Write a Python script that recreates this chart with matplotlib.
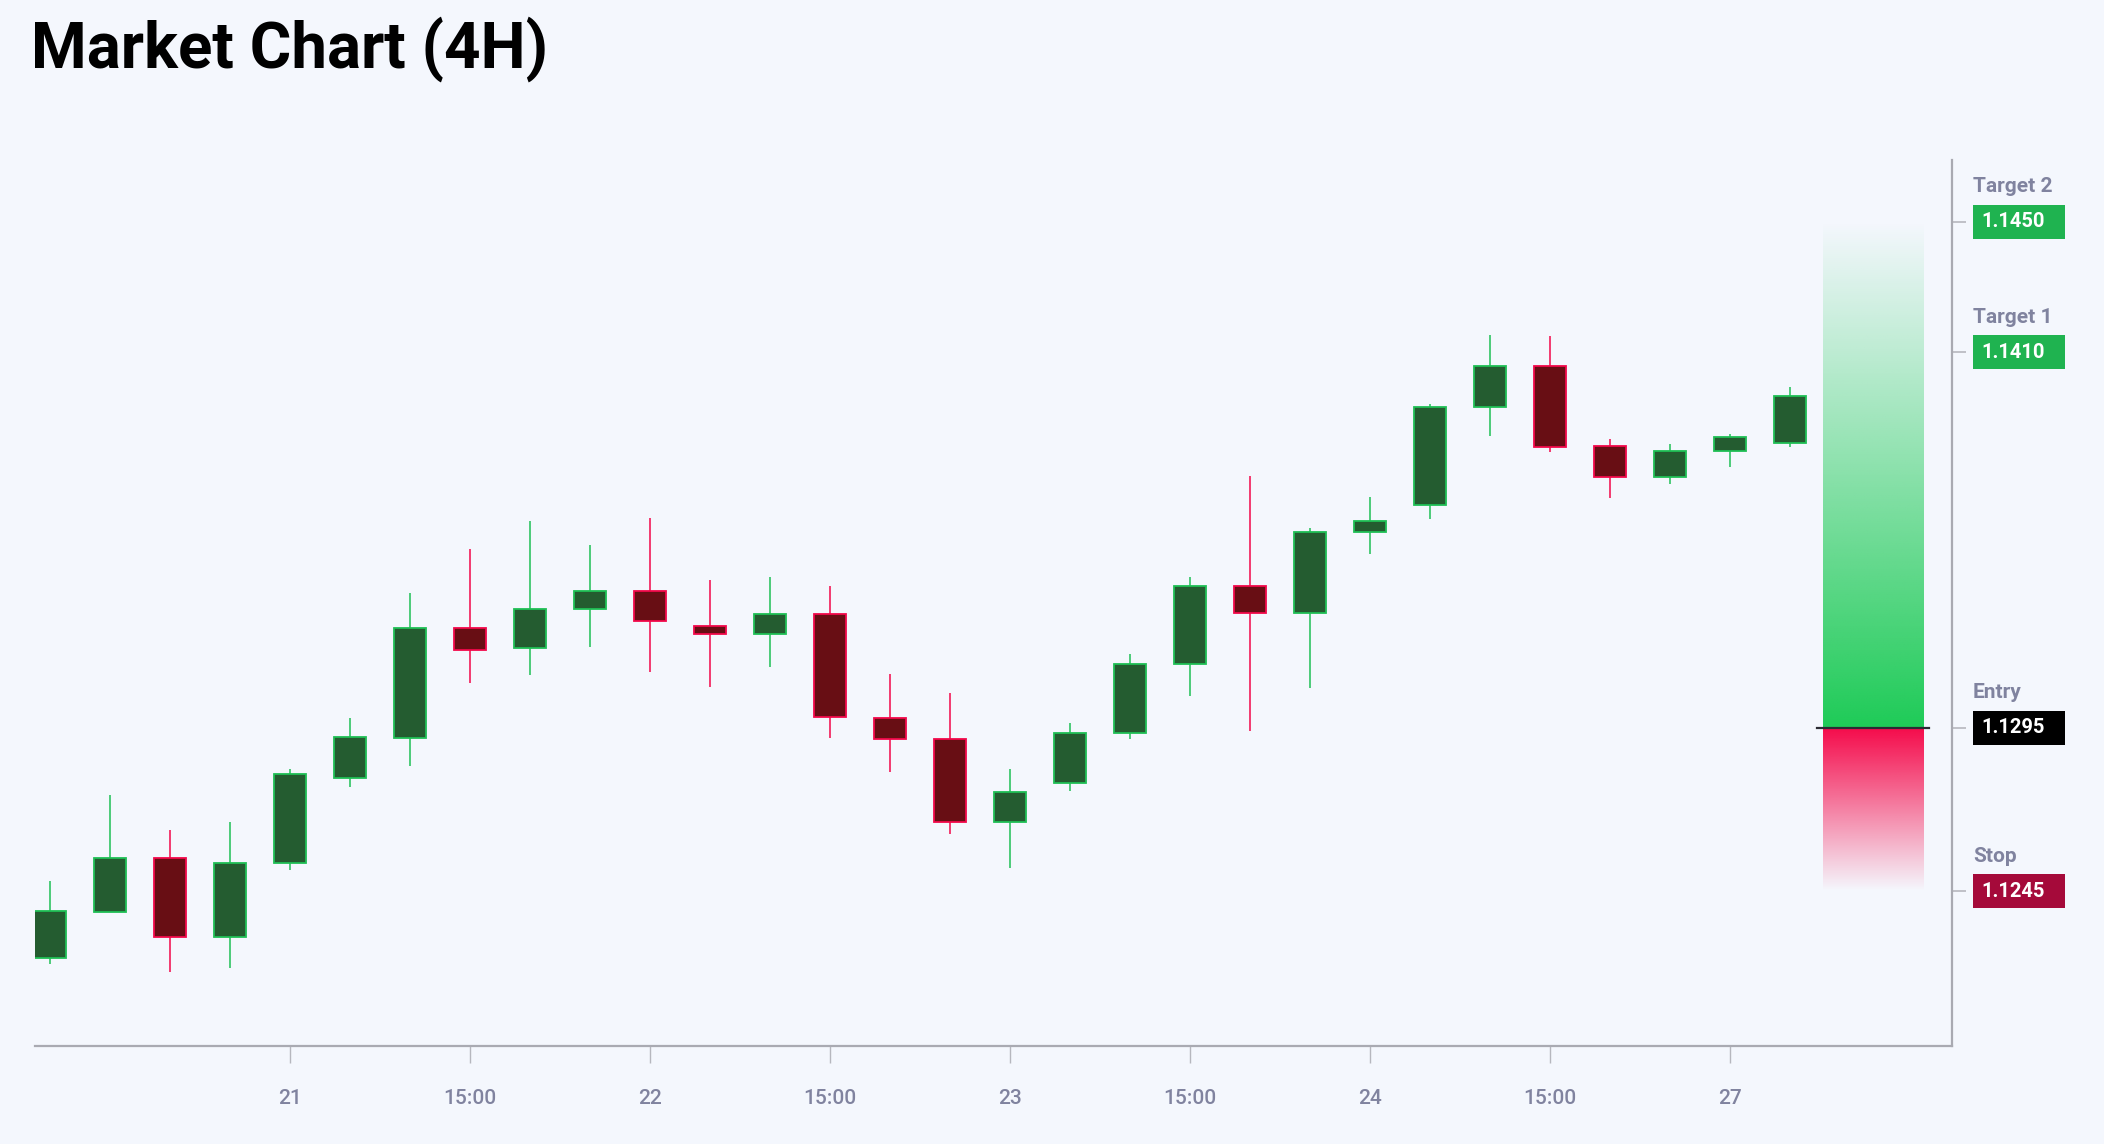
import numpy as np
import matplotlib
matplotlib.use("Agg")
import matplotlib.pyplot as plt
from matplotlib.patches import Rectangle
import matplotlib.transforms as mtransforms

# ---------------- data ----------------
opens = [1.12244, 1.12387, 1.12550, 1.12310, 1.12535, 1.12795, 1.12920, 1.13256, 1.13194, 1.13314,
         1.13369, 1.13262, 1.13238, 1.13298, 1.12981, 1.12916, 1.12660, 1.12781, 1.12935, 1.13145,
         1.13384, 1.13301, 1.13549, 1.13631, 1.13933, 1.14058, 1.13813, 1.13717, 1.13799, 1.13821]
closes = [1.12389, 1.12550, 1.12310, 1.12535, 1.12808, 1.12921, 1.13256, 1.13189, 1.13314, 1.13369,
          1.13276, 1.13238, 1.13298, 1.12982, 1.12916, 1.12660, 1.12753, 1.12935, 1.13145, 1.13384,
          1.13301, 1.13549, 1.13584, 1.13933, 1.14058, 1.13811, 1.13717, 1.13798, 1.13840, 1.13965]
highs = [1.12481, 1.12744, 1.12637, 1.12662, 1.12823, 1.12979, 1.13364, 1.13497, 1.13584, 1.13510,
         1.13593, 1.13403, 1.13413, 1.13385, 1.13114, 1.13056, 1.12823, 1.12964, 1.13175, 1.13411,
         1.13721, 1.13561, 1.13658, 1.13941, 1.14153, 1.14150, 1.13834, 1.13818, 1.13850, 1.13994]
lows = [1.12226, 1.12385, 1.12203, 1.12213, 1.12514, 1.12769, 1.12834, 1.13087, 1.13113, 1.13198,
        1.13122, 1.13076, 1.13137, 1.12920, 1.12814, 1.12625, 1.12521, 1.12757, 1.12915, 1.13047,
        1.12940, 1.13073, 1.13482, 1.13589, 1.13845, 1.13794, 1.13654, 1.13698, 1.13750, 1.13809]

tick_positions = [4, 7, 10, 13, 16, 19, 22, 25, 28]
tick_labels = ["21", "15:00", "22", "15:00", "23", "15:00", "24", "15:00", "27"]

level_names = ["Target 2", "Target 1", "Entry", "Stop"]
level_values = [1.1450, 1.1410, 1.1295, 1.1245]
level_colors = ["#1fb350", "#1fb350", "#000000", "#a50a3a"]

entry_price = 1.1295
target_price = 1.1450
stop_price = 1.1245

# ---------------- style ----------------
BG = "#f4f7fd"
BULL_FILL = "#245c30"
BULL_EDGE = "#1fbf55"
BEAR_FILL = "#680e14"
BEAR_EDGE = "#f2084a"
AXIS_COL = "#a9aab2"
TICK_COL = "#b6b7be"
LABEL_COL = "#80839f"

plt.rcParams["font.family"] = ["Roboto", "DejaVu Sans"]

W, H = 2104, 1144
fig = plt.figure(figsize=(W / 100, H / 100), dpi=100, facecolor=BG)
ax_left, ax_right, ax_top, ax_bottom = 35, 1952, 160, 1046
ax = fig.add_axes([ax_left / W, 1 - ax_bottom / H, (ax_right - ax_left) / W, (ax_bottom - ax_top) / H])
ax.set_facecolor(BG)

n = len(opens)
xs = np.arange(n)
body_w = 0.52
for i in range(n):
    o, c, h, l = opens[i], closes[i], highs[i], lows[i]
    bull = c >= o
    fill = BULL_FILL if bull else BEAR_FILL
    edge = BULL_EDGE if bull else BEAR_EDGE
    ax.plot([xs[i], xs[i]], [l, h], color=edge, lw=1.1, zorder=2, solid_capstyle="butt")
    ax.add_patch(Rectangle((xs[i] - body_w / 2, min(o, c)), body_w, max(abs(c - o), 0.00002),
                           facecolor=fill, edgecolor=edge, lw=1.3, zorder=3))

# risk / reward gradient box
gx0, gx1 = 29.545, 31.217
res = 256
g_rgb = np.array([30, 203, 87]) / 255
r_rgb = np.array([245, 10, 74]) / 255
green = np.zeros((res, 1, 4))
green[:, 0, :3] = g_rgb
green[:, 0, 3] = np.linspace(1.0, 0.0, res)
ax.imshow(green, extent=[gx0, gx1, entry_price, target_price], origin="lower",
          aspect="auto", interpolation="bilinear", zorder=1)
red = np.zeros((res, 1, 4))
red[:, 0, :3] = r_rgb
red[:, 0, 3] = np.linspace(0.0, 1.0, res)
ax.imshow(red, extent=[gx0, gx1, stop_price, entry_price], origin="lower",
          aspect="auto", interpolation="bilinear", zorder=1)
ax.plot([29.45, 31.31], [entry_price, entry_price], color="#2b2b33", lw=1.6, zorder=4)

ax.set_xlim(-0.25, (ax_right - 50) / 60.0)
ax.set_ylim(1.119753, 1.14689)

# axes styling
for s in ["top", "left"]:
    ax.spines[s].set_visible(False)
for s in ["bottom", "right"]:
    ax.spines[s].set_color(AXIS_COL)
    ax.spines[s].set_linewidth(1.6)

ax.set_xticks(tick_positions)
ax.set_xticklabels(tick_labels)
ax.tick_params(axis="x", length=12, width=1.0, color=TICK_COL, pad=19,
               labelsize=15, labelcolor=LABEL_COL)
for t in ax.get_xticklabels():
    t.set_fontweight("medium")

ax.yaxis.set_ticks_position("right")
ax.set_yticks(level_values)
ax.tick_params(axis="y", length=10, width=1.2, color=TICK_COL, labelright=False, labelleft=False)

# right-side level labels
px_per_unit = (ax_bottom - ax_top) / (1.14689 - 1.119753)
box_h = 34 / px_per_unit
trans = mtransforms.blended_transform_factory(fig.transFigure, ax.transData)
for name, val, col in zip(level_names, level_values, level_colors):
    ax.add_patch(Rectangle((1973 / W, val - box_h / 2), 92 / W, box_h, transform=trans,
                           facecolor=col, edgecolor="none", clip_on=False, zorder=5))
    ax.text(1981 / W, val, f"{val:.4f}", transform=trans, color="white", fontsize=14.5,
            fontweight="bold", ha="left", va="center", zorder=6, clip_on=False)
    tt = mtransforms.offset_copy(trans, fig=fig, x=0, y=35, units="dots")
    ax.text(1973 / W, val, name, transform=tt, color=LABEL_COL, fontsize=15,
            fontweight="bold", ha="left", va="center", clip_on=False)

fig.text(31 / W, 1 - 67.7 / H, "Market Chart (4H)", fontsize=45.8, fontweight="bold",
         color="#000000", ha="left", va="baseline")

fig.savefig("out.png", dpi=100, facecolor=BG)
